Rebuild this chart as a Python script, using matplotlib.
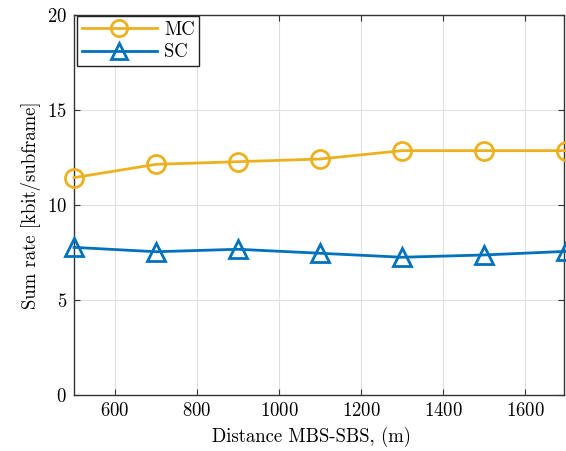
import matplotlib
matplotlib.use('Agg')
import matplotlib.pyplot as plt

plt.rcParams['font.family'] = 'cmr10'
plt.rcParams['mathtext.fontset'] = 'cm'
plt.rcParams['axes.formatter.use_mathtext'] = True

distance = [500, 700, 900, 1100, 1300, 1500, 1700]
mc_rate = [11.44, 12.14, 12.28, 12.42, 12.86, 12.86, 12.86]
sc_rate = [7.77, 7.54, 7.67, 7.46, 7.25, 7.37, 7.56]

fig = plt.figure(figsize=(5.66, 4.51), dpi=100)
ax = fig.add_axes([74/566, 56/451, 490/566, 380/451])

ax.plot(distance, mc_rate, color='#EDB120', lw=2, marker='o', ms=13,
        mfc='none', mew=2, label='MC', clip_on=False, zorder=3)
ax.plot(distance, sc_rate, color='#0072BD', lw=2, marker='^', ms=13,
        mfc='none', mew=2, label='SC', clip_on=False, zorder=3)

ax.set_xlim(500, 1695)
ax.set_ylim(0, 20)
ax.set_xticks([600, 800, 1000, 1200, 1400, 1600])
ax.set_yticks([0, 5, 10, 15, 20])
ax.grid(True, color='#e0e0e0', lw=0.8)
ax.set_axisbelow(True)
ax.tick_params(direction='in', top=True, right=True, labelsize=13.5,
               length=4, color='#333333', pad=5)
for s in ax.spines.values():
    s.set_color('#333333')
    s.set_linewidth(1.0)

ax.set_xlabel('Distance MBS-SBS, (m)', fontsize=13.5)
ax.xaxis.set_label_coords(0.485, -0.085)
ax.set_ylabel('Sum rate [kbit/subframe]', fontsize=13.5, labelpad=4)

leg = ax.legend(loc='upper left', fontsize=13.5, fancybox=False, framealpha=1,
                edgecolor='#222222', handlelength=4.0, borderaxespad=0.15,
                borderpad=0.25, labelspacing=0.25, handletextpad=0.4,
                markerscale=0.9, bbox_to_anchor=(0, 1.005))
leg.get_frame().set_linewidth(1.0)

fig.savefig('out.png', dpi=100)
